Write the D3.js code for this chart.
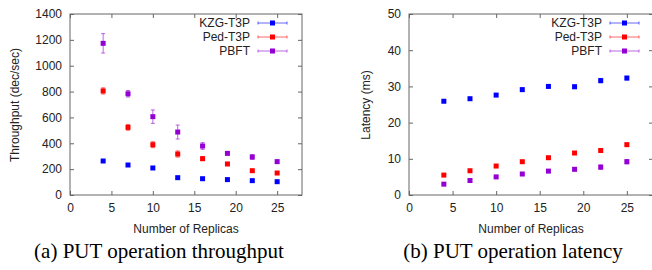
<!DOCTYPE html>
<html>
<head>
<meta charset="utf-8">
<script src="https://cdn.jsdelivr.net/npm/d3@7"></script>
<style>
  body { margin: 0; background: #fff; }
  text { font-family: "Liberation Sans", Arial, sans-serif; fill: #222; }
  .caption { font-family: "Liberation Serif", "Times New Roman", serif; fill: #000; }
</style>
</head>
<body>
<script>
"use strict"

// replica counts (x axis)
var replicas = [4, 7, 10, 13, 16, 19, 22, 25];
var seriesNames = ["KZG-T3P", "Ped-T3P", "PBFT"];
var seriesColors = ["#0000ff", "#ff0000", "#9400d3"];

// throughput (dec/sec) with error half-widths
var tputKzg = [263, 232, 209, 134, 126, 119, 111, 103];
var tputKzgErr = [6, 6, 6, 5, 5, 5, 5, 5];
var tputPed = [805, 523, 389, 317, 281, 240, 188, 170];
var tputPedErr = [24, 22, 23, 24, 15, 12, 5, 5];
var tputPbft = [1173, 783, 606, 487, 379, 322, 294, 258];
var tputPbftErr = [75, 25, 52, 54, 26, 10, 18, 12];

// latency (ms) with error half-widths
var latKzg = [25.9, 26.6, 27.6, 29.1, 30.0, 29.9, 31.6, 32.3];
var latKzgErr = [0.3, 0.3, 0.4, 0.5, 0.5, 0.5, 0.6, 0.5];
var latPed = [5.5, 6.7, 8.0, 9.2, 10.3, 11.6, 12.3, 13.9];
var latPedErr = [0.2, 0.2, 0.3, 0.3, 0.3, 0.4, 0.3, 0.4];
var latPbft = [3.0, 4.0, 5.0, 5.8, 6.6, 7.1, 7.7, 9.2];
var latPbftErr = [0.2, 0.2, 0.3, 0.3, 0.4, 0.4, 0.6, 0.6];

var xTicks = [0, 5, 10, 15, 20, 25];
var tputTicks = [0, 200, 400, 600, 800, 1000, 1200, 1400];
var latTicks = [0, 10, 20, 30, 40, 50];

var svg = d3.select("body").append("svg")
            .attr("width", 652)
            .attr("height", 270);

function drawPanel(p) {
    var x = d3.scaleLinear().domain([0, 28]).range([p.left, p.right]);
    var y = d3.scaleLinear().domain([0, p.yMax]).range([195, 14]);
    var g = svg.append("g");
    var frame = "#666";

    // frame
    g.append("rect").attr("x", p.left).attr("y", 14)
     .attr("width", p.right - p.left).attr("height", 181)
     .attr("fill", "none").attr("stroke", frame).attr("stroke-width", 1);

    // axes, ticks mirrored on all four sides
    var ya = g.append("g").attr("transform", "translate(" + p.left + ",0)")
              .call(d3.axisLeft(y).tickValues(p.yTicks).tickFormat(d3.format("d"))
                    .tickSizeInner(-4).tickSizeOuter(0).tickPadding(8));
    var yb = g.append("g").attr("transform", "translate(" + p.right + ",0)")
              .call(d3.axisRight(y).tickValues(p.yTicks).tickSizeInner(-4).tickSizeOuter(0).tickFormat(""));
    var xa = g.append("g").attr("transform", "translate(0,195)")
              .call(d3.axisBottom(x).tickValues(xTicks).tickFormat(d3.format("d"))
                    .tickSizeInner(-4).tickSizeOuter(0).tickPadding(8));
    var xb = g.append("g").attr("transform", "translate(0,14)")
              .call(d3.axisTop(x).tickValues(xTicks).tickSizeInner(-4).tickSizeOuter(0).tickFormat(""));
    [ya, yb, xa, xb].forEach(function(a) {
        a.select(".domain").remove();
        a.selectAll("line").attr("stroke", frame);
        a.selectAll("text").attr("font-size", 12).attr("fill", "#222")
         .style("font-family", "'Liberation Sans', Arial, sans-serif");
    });

    // axis titles
    g.append("text").attr("transform", "translate(" + p.yLabelX + ",105) rotate(-90)")
     .attr("text-anchor", "middle").attr("font-size", 12).text(p.yLabel);
    g.append("text").attr("x", (p.left + p.right) / 2).attr("y", 233)
     .attr("text-anchor", "middle").attr("font-size", 12).text("Number of Replicas");
    g.append("text").attr("class", "caption").attr("x", p.captionX).attr("y", 258)
     .attr("text-anchor", "middle").attr("font-size", 21).text(p.caption);

    // series: error bars, caps, square markers
    p.series.forEach(function(s, i) {
        var col = seriesColors[i];
        var pts = replicas.map(function(r, j) { return { x: r, y: s.vals[j], e: s.errs[j] }; });
        var sg = g.append("g");
        sg.selectAll(".bar").data(pts).enter().append("line")
          .attr("x1", function(d) { return x(d.x); }).attr("x2", function(d) { return x(d.x); })
          .attr("y1", function(d) { return y(d.y - d.e); }).attr("y2", function(d) { return y(d.y + d.e); })
          .attr("stroke", col).attr("stroke-opacity", 0.6);
        [-1, 1].forEach(function(sign) {
            sg.selectAll(".cap" + sign).data(pts).enter().append("line")
              .attr("x1", function(d) { return x(d.x) - 2; }).attr("x2", function(d) { return x(d.x) + 2; })
              .attr("y1", function(d) { return y(d.y + sign * d.e); }).attr("y2", function(d) { return y(d.y + sign * d.e); })
              .attr("stroke", col).attr("stroke-opacity", 0.6);
        });
        sg.selectAll(".pt").data(pts).enter().append("rect")
          .attr("x", function(d) { return x(d.x) - 2.5; })
          .attr("y", function(d) { return y(d.y) - 2.5; })
          .attr("width", 5).attr("height", 5).attr("fill", col);

        // legend entry
        var ly = 23 + i * 14;
        g.append("text").attr("x", p.legendX).attr("y", ly).attr("dy", "0.35em")
         .attr("text-anchor", "end").attr("font-size", 12).text(seriesNames[i]);
        var lx0 = p.legendX + 8, lx1 = p.legendX + 37;
        g.append("line").attr("x1", lx0).attr("x2", lx1).attr("y1", ly).attr("y2", ly)
         .attr("stroke", col).attr("stroke-opacity", 0.6);
        [lx0, lx1].forEach(function(cx) {
            g.append("line").attr("x1", cx).attr("x2", cx).attr("y1", ly - 1.5).attr("y2", ly + 1.5)
             .attr("stroke", col).attr("stroke-opacity", 0.6);
        });
        g.append("rect").attr("x", (lx0 + lx1) / 2 - 2.5).attr("y", ly - 2.5)
         .attr("width", 5).attr("height", 5).attr("fill", col);
    });
}

drawPanel({
    left: 70, right: 302, yMax: 1400, yTicks: tputTicks,
    yLabel: "Throughput (dec/sec)", yLabelX: 19,
    caption: "(a) PUT operation throughput", captionX: 159,
    legendX: 250,
    series: [
        { vals: tputKzg, errs: tputKzgErr },
        { vals: tputPed, errs: tputPedErr },
        { vals: tputPbft, errs: tputPbftErr }
    ]
});

drawPanel({
    left: 409, right: 653, yMax: 50, yTicks: latTicks,
    yLabel: "Latency (ms)", yLabelX: 370,
    caption: "(b) PUT operation latency", captionX: 513,
    legendX: 602,
    series: [
        { vals: latKzg, errs: latKzgErr },
        { vals: latPed, errs: latPedErr },
        { vals: latPbft, errs: latPbftErr }
    ]
});
</script>
</body>
</html>
